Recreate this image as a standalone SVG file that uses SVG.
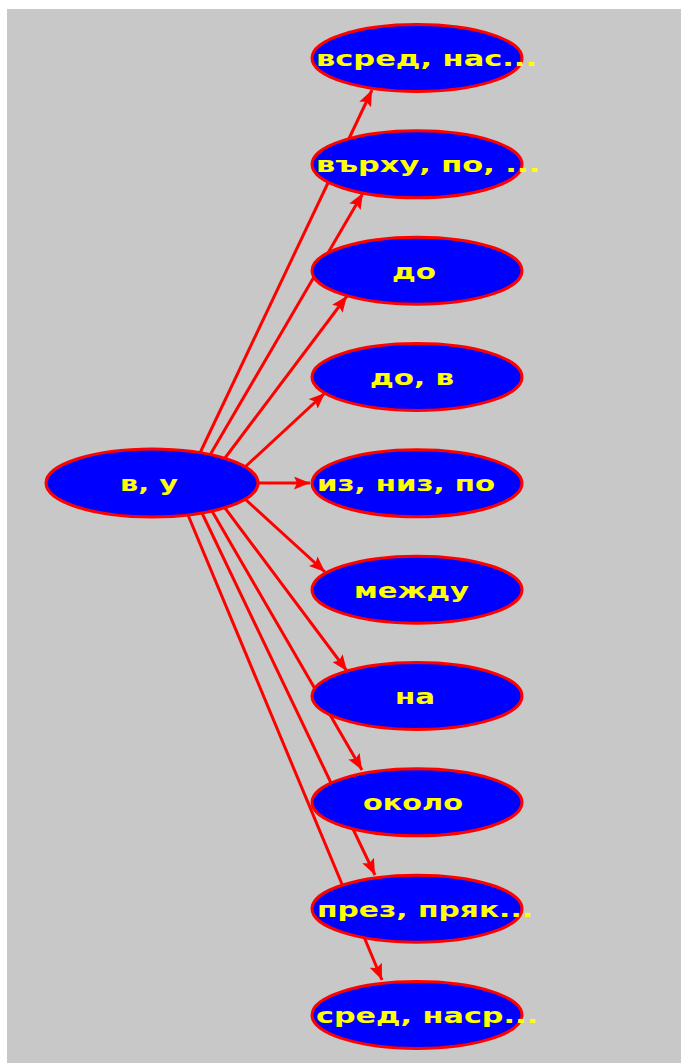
<svg xmlns="http://www.w3.org/2000/svg" width="681" height="1063" viewBox="0 0 681 1063">
<style>
.node ellipse{fill:#0000ff;stroke:#ff0000;stroke-width:3}
.node text{fill:#ffff00;font-family:"DejaVu Sans","Liberation Sans",sans-serif;font-weight:bold;font-size:22px}
.edges line{stroke:#ff0000;stroke-width:3;marker-end:url(#arr)}
</style>
<defs>
<marker id="arr" markerUnits="userSpaceOnUse" markerWidth="17" markerHeight="13" refX="16" refY="6.5" orient="auto">
<path d="M0,0 L16,6.5 L0,13 L3,6.5 Z" fill="#ff0000"/>
</marker>
</defs>
<rect x="0" y="0" width="681" height="1063" fill="#ffffff"/>
<rect x="7" y="9" width="674" height="1054" fill="#c8c8c8"/>
<g id="edges" class="edges">
<line x1="200" y1="453" x2="372" y2="90"/>
<line x1="210" y1="455" x2="363" y2="193"/>
<line x1="225" y1="458" x2="347" y2="296"/>
<line x1="245" y1="467" x2="325" y2="393"/>
<line x1="258" y1="483" x2="310" y2="483"/>
<line x1="245" y1="499" x2="325" y2="572"/>
<line x1="225" y1="508" x2="347" y2="671"/>
<line x1="212" y1="511" x2="362" y2="770"/>
<line x1="202" y1="513" x2="375" y2="875"/>
<line x1="188" y1="515" x2="382" y2="980"/>
</g>
<g id="n0" class="node"><ellipse cx="152" cy="483" rx="106" ry="34"/><text x="120" y="490.8" textLength="58" lengthAdjust="spacingAndGlyphs">в, у</text></g>
<g id="n1" class="node"><ellipse cx="417" cy="58" rx="105" ry="33.5"/><text x="316" y="65.8" textLength="221" lengthAdjust="spacingAndGlyphs">всред, нас...</text></g>
<g id="n2" class="node"><ellipse cx="417" cy="164.3" rx="105" ry="33.5"/><text x="316" y="172.1" textLength="224" lengthAdjust="spacingAndGlyphs">върху, по, ...</text></g>
<g id="n3" class="node"><ellipse cx="417" cy="270.7" rx="105" ry="33.5"/><text x="392" y="278.5" textLength="44" lengthAdjust="spacingAndGlyphs">до</text></g>
<g id="n4" class="node"><ellipse cx="417" cy="377" rx="105" ry="33.5"/><text x="370" y="384.8" textLength="84" lengthAdjust="spacingAndGlyphs">до, в</text></g>
<g id="n5" class="node"><ellipse cx="417" cy="483.3" rx="105" ry="33.5"/><text x="317" y="491.1" textLength="178" lengthAdjust="spacingAndGlyphs">из, низ, по</text></g>
<g id="n6" class="node"><ellipse cx="417" cy="589.7" rx="105" ry="33.5"/><text x="354" y="597.5" textLength="115" lengthAdjust="spacingAndGlyphs">между</text></g>
<g id="n7" class="node"><ellipse cx="417" cy="696" rx="105" ry="33.5"/><text x="395" y="703.8" textLength="40" lengthAdjust="spacingAndGlyphs">на</text></g>
<g id="n8" class="node"><ellipse cx="417" cy="802.3" rx="105" ry="33.5"/><text x="363" y="810.1" textLength="100" lengthAdjust="spacingAndGlyphs">около</text></g>
<g id="n9" class="node"><ellipse cx="417" cy="908.7" rx="105" ry="33.5"/><text x="317" y="916.5" textLength="216" lengthAdjust="spacingAndGlyphs">през, пряк...</text></g>
<g id="n10" class="node"><ellipse cx="417" cy="1015" rx="105" ry="33.5"/><text x="316" y="1022.8" textLength="222" lengthAdjust="spacingAndGlyphs">сред, наср...</text></g>
</svg>
